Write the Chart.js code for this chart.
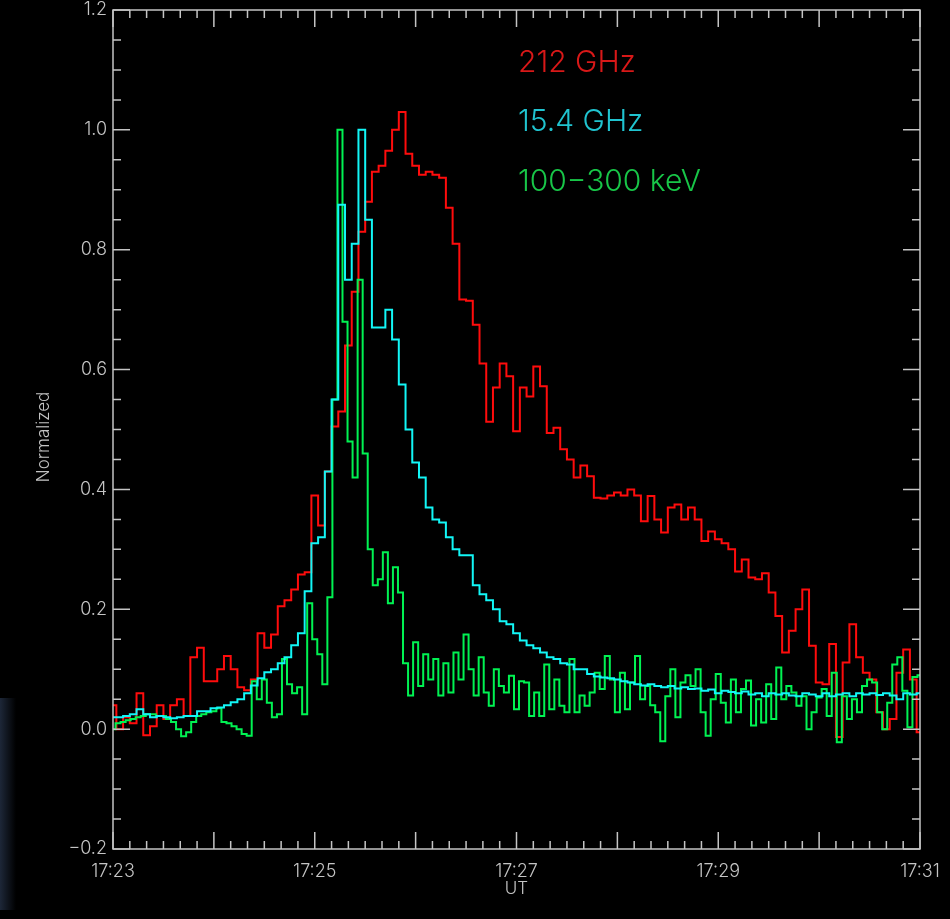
<!DOCTYPE html>
<html>
<head>
<meta charset="utf-8">
<title>Normalized light curves</title>
<script src="https://cdn.jsdelivr.net/npm/chart.js@4.4.1/dist/chart.umd.min.js"></script>
<style>
  html, body { margin: 0; padding: 0; background: #000; }
  #wrap { position: relative; width: 950px; height: 919px; overflow: hidden; }
  #edge {
    position: absolute; left: 0; top: 698px; width: 16px; height: 212px;
    background: linear-gradient(to right, #1d2738, rgba(20, 28, 40, 0));
  }
</style>
</head>
<body>
<div id="wrap">
  <canvas id="lc" width="950" height="919"></canvas>
  <div id="edge"></div>
</div>
<script>
// seconds after 17:23:00 UT
const radioStep = 4;   // 212 GHz and 15.4 GHz cadence
const hxrStep = 3;     // 100-300 keV cadence

const tickSeconds = [0, 120, 240, 360, 480];
const tickLabels = ["17:23", "17:25", "17:27", "17:29", "17:31"];

const seriesNames = ["212 GHz", "15.4 GHz", "100\u2212300 keV"];
const lineColors = ["#ff0c0c", "#12f6f6", "#00f252"];
const textColors = ["#d81818", "#20c4d0", "#18c648"];

const flux212 = [
  0.04, 0.0, 0.02, 0.01, 0.06, -0.01, 0.005, 0.04, 0.017, 0.04,
  0.05, 0.022, 0.12, 0.136, 0.08, 0.08, 0.1, 0.122, 0.1, 0.07,
  0.065, 0.083, 0.16, 0.136, 0.158, 0.205, 0.215, 0.233, 0.258, 0.262,
  0.39, 0.34, 0.43, 0.505, 0.53, 0.64, 0.73, 0.83, 0.88, 0.93,
  0.94, 0.965, 1.0, 1.03, 0.96, 0.94, 0.925, 0.93, 0.925, 0.92,
  0.87, 0.81, 0.717, 0.715, 0.675, 0.61, 0.513, 0.57, 0.61, 0.589,
  0.497, 0.57, 0.555, 0.605, 0.572, 0.494, 0.503, 0.467, 0.45, 0.42,
  0.44, 0.422, 0.386, 0.385, 0.39, 0.395, 0.39, 0.4, 0.39, 0.347,
  0.389, 0.35, 0.328, 0.37, 0.375, 0.35, 0.37, 0.35, 0.314, 0.33,
  0.317, 0.31, 0.3, 0.263, 0.283, 0.253, 0.25, 0.26, 0.228, 0.189,
  0.128, 0.164, 0.2, 0.233, 0.139, 0.078, 0.075, 0.142, -0.013, 0.111,
  0.175, 0.12, 0.094, 0.083, 0.028, 0.0, 0.017, 0.094, 0.133, 0.083,
  -0.005
];

const flux154 = [
  0.02, 0.02, 0.022, 0.025, 0.033, 0.025, 0.02, 0.022, 0.02, 0.018,
  0.02, 0.022, 0.022, 0.03, 0.03, 0.035, 0.036, 0.04, 0.045, 0.05,
  0.06, 0.073, 0.085, 0.095, 0.1, 0.11, 0.12, 0.14, 0.16, 0.23,
  0.31, 0.32, 0.43, 0.55, 0.875, 0.75, 0.81, 1.0, 0.85, 0.67,
  0.67, 0.7, 0.65, 0.575, 0.5, 0.445, 0.42, 0.37, 0.35, 0.345,
  0.32, 0.3, 0.29, 0.29, 0.24, 0.225, 0.215, 0.2, 0.18, 0.175,
  0.16, 0.148, 0.14, 0.135, 0.128, 0.12, 0.117, 0.11, 0.108, 0.1,
  0.1, 0.092, 0.088, 0.086, 0.085, 0.083, 0.08, 0.078, 0.075, 0.073,
  0.075, 0.072, 0.07, 0.072, 0.068, 0.07, 0.067, 0.068, 0.064, 0.066,
  0.06, 0.064, 0.062, 0.06, 0.063, 0.058, 0.06, 0.055, 0.06, 0.058,
  0.06, 0.056, 0.055, 0.06, 0.058, 0.055, 0.06, 0.055, 0.058, 0.06,
  0.055, 0.06, 0.058, 0.06, 0.057, 0.06, 0.056, 0.05, 0.06, 0.058,
  0.06
];

const countsHxr = [
  0.0, 0.01, 0.012, 0.015, 0.017, 0.02, 0.022, 0.025, 0.025, 0.022,
  0.022, 0.017, 0.012, 0.0, -0.012, -0.005, 0.012, 0.022, 0.025, 0.028,
  0.03, 0.035, 0.012, 0.01, 0.005, 0.0, -0.008, -0.011, 0.08, 0.05,
  0.083, 0.044, 0.02, 0.025, 0.117, 0.075, 0.06, 0.07, 0.025, 0.21,
  0.15, 0.125, 0.075, 0.22, 0.55, 1.0, 0.68, 0.48, 0.42, 0.75,
  0.46, 0.3, 0.24, 0.25, 0.295, 0.21, 0.27, 0.228, 0.11, 0.056,
  0.145, 0.072, 0.125, 0.083, 0.117, 0.056, 0.11, 0.061, 0.128, 0.083,
  0.158, 0.1, 0.056, 0.12, 0.061, 0.039, 0.1, 0.072, 0.061, 0.089,
  0.033, 0.08, 0.078, 0.022, 0.061, 0.022, 0.108, 0.033, 0.083, 0.039,
  0.028, 0.117, 0.028, 0.056, 0.039, 0.061, 0.094, 0.067, 0.122, 0.083,
  0.028, 0.094, 0.033, 0.078, 0.122, 0.05, 0.072, 0.04, 0.028, -0.02,
  0.055, 0.1, 0.02, 0.078, 0.09, 0.072, 0.1, 0.028, -0.011, 0.05,
  0.092, 0.044, 0.011, 0.083, 0.028, 0.067, 0.081, 0.006, 0.05, 0.011,
  0.075, 0.017, 0.103, 0.05, 0.072, 0.061, 0.039, 0.055, 0.0, 0.028,
  0.053, 0.067, 0.022, 0.094, -0.022, 0.055, 0.017, 0.05, 0.028, 0.072,
  0.083, 0.078, 0.028, 0.0, 0.044, 0.108, 0.12, 0.064, 0.003, 0.087,
  0.09
];

const axisColor = "#c4c4c4";
const fontFamily = 'Inter, "DejaVu Sans", sans-serif';

const toPoints = (values, step) => values.map((v, i) => ({ x: i * step, y: v }));

// IDL-style frame: box on all four sides, inward major/minor ticks, legend text
const frameTicks = {
  id: "frameTicks",
  beforeDraw(chart) {
    const ctx = chart.ctx;
    ctx.save();
    ctx.fillStyle = "#000";
    ctx.fillRect(0, 0, chart.width, chart.height);
    ctx.restore();
  },
  afterDatasetsDraw(chart) {
    const { ctx, chartArea: a, scales: { x, y } } = chart;
    ctx.save();
    ctx.strokeStyle = axisColor;
    ctx.lineWidth = 1.5;
    ctx.strokeRect(a.left, a.top, a.right - a.left, a.bottom - a.top);

    ctx.beginPath();
    for (let s = 0; s <= 480; s += 10) {
      const px = x.getPixelForValue(s);
      const len = s % 60 === 0 ? 17 : 8;
      ctx.moveTo(px, a.bottom);
      ctx.lineTo(px, a.bottom - len);
      ctx.moveTo(px, a.top);
      ctx.lineTo(px, a.top + len);
    }
    for (let k = -4; k <= 24; k++) {
      const py = y.getPixelForValue(k * 0.05);
      const len = k % 4 === 0 ? 17 : 8;
      ctx.moveTo(a.left, py);
      ctx.lineTo(a.left + len, py);
      ctx.moveTo(a.right, py);
      ctx.lineTo(a.right - len, py);
    }
    ctx.stroke();

    // series names
    ctx.font = "300 30px " + fontFamily;
    ctx.textAlign = "left";
    ctx.textBaseline = "alphabetic";
    const baselines = [72, 131, 191];
    seriesNames.forEach((name, i) => {
      ctx.fillStyle = textColors[i];
      ctx.fillText(name, 518, baselines[i]);
    });

    // axis titles
    ctx.fillStyle = axisColor;
    ctx.font = "300 17px " + fontFamily;
    ctx.textAlign = "center";
    ctx.textBaseline = "middle";
    ctx.fillText("UT", (a.left + a.right) / 2, 889);
    ctx.translate(44, 437);
    ctx.rotate(-Math.PI / 2);
    ctx.fillText("Normalized", 0, 0);
    ctx.restore();
  }
};

const ctx = document.getElementById("lc");

new Chart(ctx, {
  type: "line",
  plugins: [frameTicks],
  data: {
    datasets: [
      {
        label: seriesNames[0],
        data: toPoints(flux212, radioStep),
        borderColor: lineColors[0],
        order: 2,
      },
      {
        label: seriesNames[1],
        data: toPoints(flux154, radioStep),
        borderColor: lineColors[1],
        order: 0,
      },
      {
        label: seriesNames[2],
        data: toPoints(countsHxr, hxrStep),
        borderColor: lineColors[2],
        order: 1,
      },
    ],
  },
  options: {
    responsive: false,
    animation: false,
    events: [],
    layout: {
      padding: { left: 0, right: 30, top: 10, bottom: 0 },
    },
    elements: {
      line: { borderWidth: 2, stepped: "middle", tension: 0 },
      point: { radius: 0 },
    },
    plugins: {
      legend: { display: false },
      tooltip: { enabled: false },
    },
    scales: {
      x: {
        type: "linear",
        min: 0,
        max: 480,
        grid: { display: false, drawTicks: false },
        border: { display: false },
        afterBuildTicks: (scale) => {
          scale.ticks = tickSeconds.map((v) => ({ value: v }));
        },
        afterFit: (scale) => {
          scale.height = 70;
          scale.paddingLeft = 0;
          scale.paddingRight = 0;
        },
        ticks: {
          autoSkip: false,
          maxRotation: 0,
          padding: 12,
          color: axisColor,
          font: { family: fontFamily, size: 18, weight: "300" },
          callback: (v) => tickLabels[tickSeconds.indexOf(v)],
        },
      },
      y: {
        min: -0.2,
        max: 1.2,
        grid: { display: false, drawTicks: false },
        border: { display: false },
        afterFit: (scale) => {
          scale.width = 113;
          scale.paddingTop = 0;
          scale.paddingBottom = 0;
        },
        ticks: {
          stepSize: 0.2,
          padding: 6,
          color: axisColor,
          font: { family: fontFamily, size: 18, weight: "300" },
          callback: (v) => (v < -0.001 ? "\u2212" : "") + Math.abs(v).toFixed(1),
        },
      },
    },
  },
});
</script>
</body>
</html>
